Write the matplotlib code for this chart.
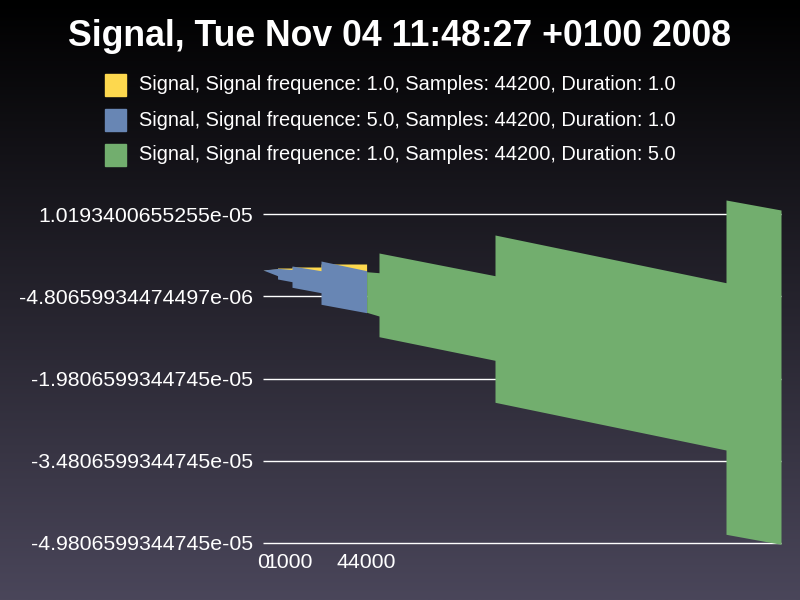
import numpy as np
import matplotlib.pyplot as plt
from matplotlib.colors import LinearSegmentedColormap
from matplotlib.patches import Rectangle

plt.rcParams['font.family'] = ['Liberation Sans', 'DejaVu Sans']

title = "Signal, Tue Nov 04 11:48:27 +0100 2008"
series_names = [
    "Signal, Signal frequence: 1.0, Samples: 44200, Duration: 1.0",
    "Signal, Signal frequence: 5.0, Samples: 44200, Duration: 1.0",
    "Signal, Signal frequence: 1.0, Samples: 44200, Duration: 5.0",
]
colors = ["#FDD84E", "#6886B4", "#72AE6E"]

# envelope of each signal (sample index, upper / lower value in 1e-6)
x_yellow = [0, 6200, 6200, 12373, 12373, 24745, 24745, 44200]
top_yellow = [-0.019, 0.163, 0.345, 0.345, 0.528, 0.528, 1.075, 1.075]
bot_yellow = [-0.019, -0.37, -0.5, -0.7, -1.0, -1.5, -2.5, -3.5]

x_blue = [0, 6200, 6200, 12373, 12373, 24745, 24745, 44200]
top_blue = [-0.019, 0.254, 0.29, 0.072, 0.710, -0.147, 1.622, -0.147]
bot_blue = [-0.019, -1.059, -1.661, -2.153, -3.175, -4.159, -6.275, -7.807]

x_green = [44200, 49490, 49490, 98980, 98980, 197534, 197534, 221000]
top_green = [-0.329, -0.512, 3.081, -1.059, 6.364, -2.336, 12.747, 10.923]
bot_green = [-7.734, -8.409, -12.184, -16.488, -24.147, -32.847, -48.220, -50.044]

y_ticks = [1.0193400655255e-05, -4.80659934474497e-06, -1.9806599344745e-05,
           -3.4806599344745e-05, -4.9806599344745e-05]
y_labels = ["1.0193400655255e-05", "-4.80659934474497e-06", "-1.9806599344745e-05",
            "-3.4806599344745e-05", "-4.9806599344745e-05"]
x_ticks = [0, 1000, 44000]
x_labels = ["0", "1000", "44000"]

fig = plt.figure(figsize=(8, 6), dpi=100)

# background gradient
bg = fig.add_axes([0, 0, 1, 1], zorder=-10)
cmap = LinearSegmentedColormap.from_list("bg", ["black", "#4a465a"])
bg.imshow(np.linspace(0, 1, 256).reshape(-1, 1), cmap=cmap, aspect='auto',
          extent=[0, 1, 0, 1])
bg.axis('off')

ax = fig.add_axes([263 / 800, 57 / 600, 518 / 800, 329 / 600])
ax.set_facecolor('none')
for s in ax.spines.values():
    s.set_visible(False)

series = [(x_yellow, top_yellow, bot_yellow),
          (x_blue, top_blue, bot_blue),
          (x_green, top_green, bot_green)]
for (xs, top, bot), c in zip(series, colors):
    ax.fill_between(xs, np.array(top) * 1e-6, np.array(bot) * 1e-6,
                    color=c, lw=0, clip_on=False, zorder=3)

ax.set_xlim(0, 221000)
ax.set_ylim(y_ticks[-1], y_ticks[0])
ax.set_yticks(y_ticks)
ax.set_yticklabels(y_labels)
ax.set_xticks(x_ticks)
ax.set_xticklabels(x_labels)
ax.get_xticklabels()[1].set_horizontalalignment('left')
ax.grid(axis='y', color='white', lw=1, zorder=1)
for gl in ax.get_ygridlines():
    gl.set_clip_on(False)
    gl.set_solid_capstyle('butt')
ax.set_axisbelow(True)
ax.tick_params(axis='y', length=0, pad=7, colors='white', labelsize=15.3)
ax.tick_params(axis='x', length=0, pad=7, colors='white', labelsize=15.3)

fig.text(0.5, 1 - 36 / 600, title, color='white', fontsize=25.7,
         fontweight='bold', ha='center', va='center')

for i, (name, c) in enumerate(zip(series_names, colors)):
    yc = 85 + 35 * i
    fig.patches.append(Rectangle((105 / 800, 1 - (yc + 10.5) / 600), 21 / 800, 21 / 600,
                                 transform=fig.transFigure, color=c))
    fig.text(139 / 800, 1 - yc / 600, name, color='white', fontsize=14.4,
             ha='left', va='center')

fig.savefig('out.png', dpi=100)
